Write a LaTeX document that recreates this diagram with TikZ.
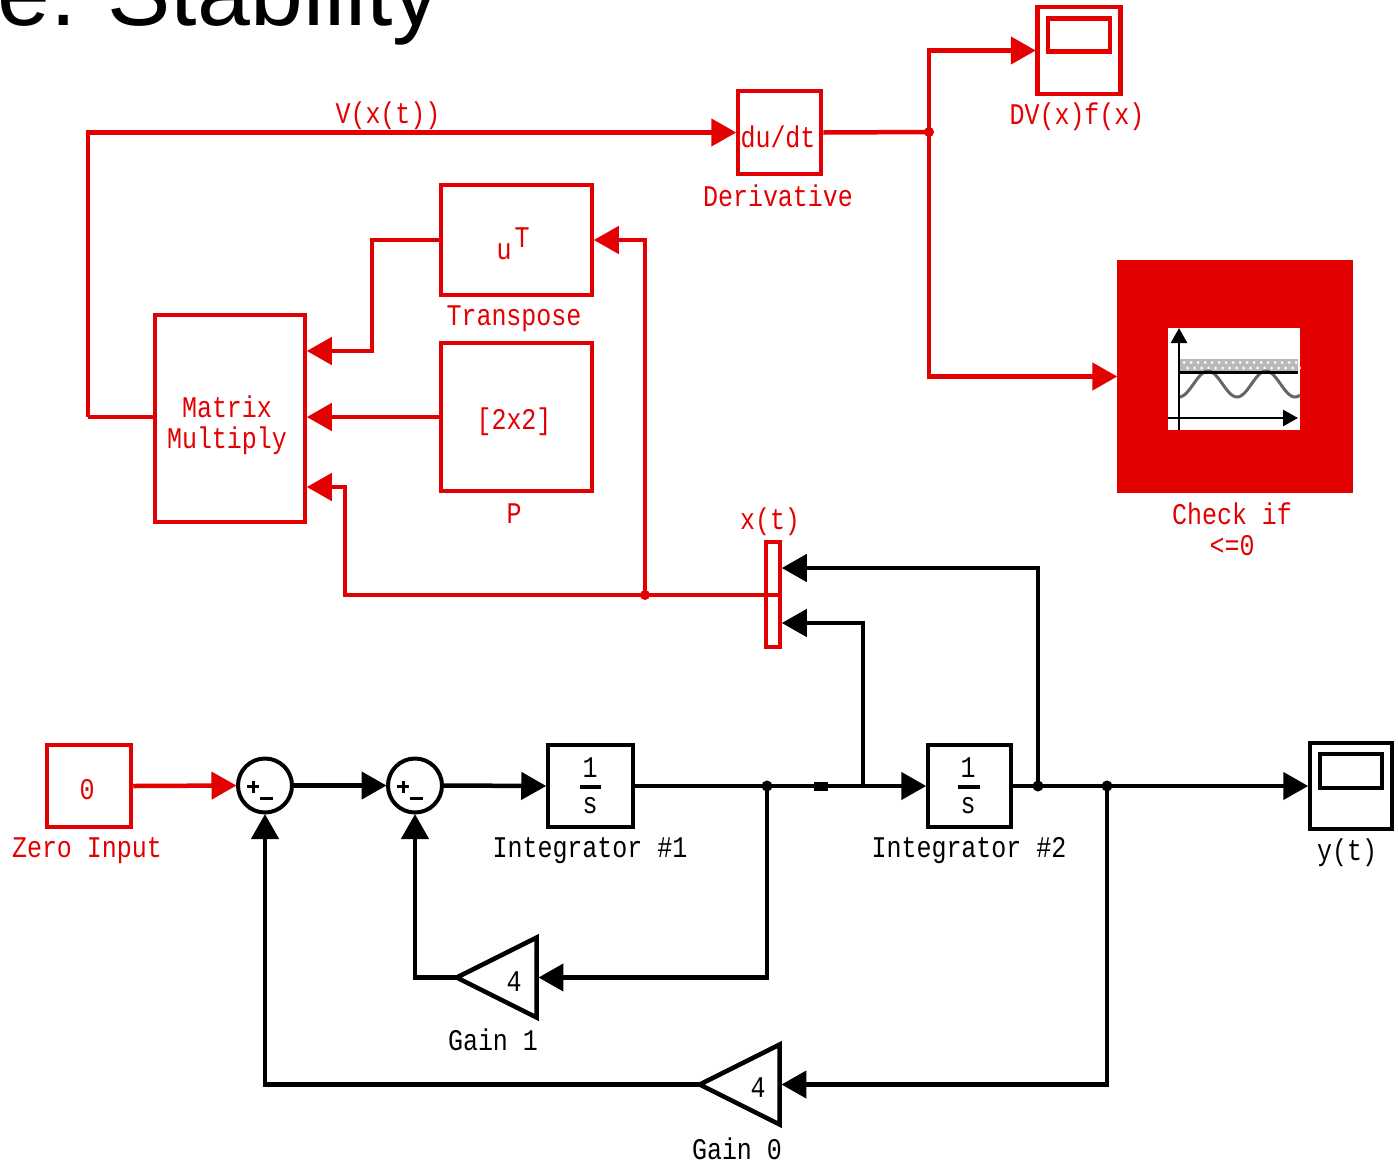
\documentclass[tikz,border=0pt]{standalone}
\usepackage{fontspec}
\setmainfont{Liberation Sans}
\newfontfamily\pixfont[FakeStretch=0.833]{Liberation Mono}
\usetikzlibrary{arrows.meta,shapes.geometric}
\definecolor{simred}{HTML}{E30000}
\tikzset{
  x=1pt,y=-1pt,
  lab/.style={font=\pixfont\fontsize{30}{34}\selectfont,inner sep=0pt,text=black},
  redlab/.style={lab,text=simred},
  wire/.style={line width=4.5pt,line join=miter},
  tip/.style={wire,-{Triangle[length=25pt,width=27pt]},shorten >=-0.5pt},
  sumcircle/.style={circle,draw=black,line width=4pt,minimum size=54pt,inner sep=0pt},
  gaintri/.style={isosceles triangle,isosceles triangle stretches,shape border rotate=180,draw=black,line width=4.5pt,minimum width=80pt,minimum height=80pt,inner sep=0pt},
  dotnode/.style={circle,fill=#1,inner sep=0pt,minimum size=11pt},
}
\begin{document}
\begin{tikzpicture}
\useasboundingbox (0,0) rectangle (1398,1168);
\begin{scope}
\clip (0,0) rectangle (1398,1168);
\node[anchor=base west,inner sep=0pt,font=\fontsize{95}{100}\selectfont] (title) at (-3,25) {e.\hspace{-4pt} Stability};
\end{scope}

% --- red blocks
\node[draw=simred,line width=4.5pt,minimum width=83pt,minimum height=83pt,inner sep=0pt] (deriv) at (779.5,132.5) {};
\node[redlab] (derivtext) at (778,137) {du/dt};
\node[redlab] (derivlab) at (778,196) {Derivative};

\node[draw=simred,line width=4.5pt,minimum width=83pt,minimum height=87pt,inner sep=0pt] (scopedv) at (1079,50.5) {};
\node[draw=simred,line width=4.5pt,minimum width=62pt,minimum height=33pt,inner sep=0pt] (scopedvscr) at (1079,35) {};
\node[redlab] (dvlab) at (1077,117) {DV(x)f(x)};

\node[fill=simred,minimum width=236pt,minimum height=233pt,inner sep=0pt] (check) at (1235,376.5) {};
\node[fill=white,minimum width=132pt,minimum height=102pt,inner sep=0pt] (checkscr) at (1234,379) {};
\fill[gray!55] (1179,359) rectangle (1298,372);
\foreach \i in {0,...,16}{\fill[white] (1184+7*\i,362.5) circle (1.5pt);\fill[white] (1187.5+7*\i,368) circle (1.5pt);}
\draw[gray!80!black,line width=3pt] plot[domain=0:121,samples=70,smooth] ({1179+\x},{384+13*cos(\x*6.2069)});
\draw[black,line width=2.5pt] (1179,372.5) -- (1298,372.5);
\draw[black,line width=2.5pt,-{Triangle[length=15pt,width=16pt]}] (1179,430) -- (1179,328);
\draw[black,line width=2.5pt,-{Triangle[length=15pt,width=16pt]}] (1168,418) -- (1298,418);
\node[redlab] (checklab) at (1232,514) {Check if};
\node[redlab] (checklab2) at (1232,546) {<=0};

\node[draw=simred,line width=4.5pt,minimum width=151pt,minimum height=110pt,inner sep=0pt] (transpose) at (516.5,240) {};
\node[redlab] (ulab) at (504,252) {u};
\node[redlab] (tlab) at (522,238) {T};
\node[redlab] (transposelab) at (514,319) {Transpose};

\node[draw=simred,line width=4.5pt,minimum width=151pt,minimum height=148pt,inner sep=0pt] (pblock) at (516.5,417) {};
\node[redlab] (ptext) at (514,422) {[2x2]};
\node[redlab] (plab) at (514,514) {P};

\node[draw=simred,line width=4.5pt,minimum width=150pt,minimum height=207pt,inner sep=0pt] (matmul) at (230,418.5) {};
\node[redlab] (mmt1) at (227,407) {Matrix};
\node[redlab] (mmt2) at (227,441) {Multiply};

\node[draw=simred,line width=4.5pt,minimum width=14pt,minimum height=105pt,inner sep=0pt] (mux) at (773,594.5) {};
\node[redlab] (muxlab) at (770,522) {x(t)};

\node[draw=simred,line width=4.5pt,minimum width=84pt,minimum height=82pt,inner sep=0pt] (zero) at (89,786) {};
\node[redlab] (zerotext) at (87,790) {0};
\node[redlab] (zerolab) at (87,851) {Zero Input};

% --- black blocks
\node[sumcircle] (suma) at (265,785.5) {};
\node[sumcircle] (sumb) at (415,785.5) {};
\foreach \c in {suma,sumb}{
  \draw[black,line width=3pt] ([shift={(-18,1)}]\c.center) -- ([shift={(-6,1)}]\c.center);
  \draw[black,line width=3pt] ([shift={(-12,-5)}]\c.center) -- ([shift={(-12,7)}]\c.center);
  \draw[black,line width=3.5pt] ([shift={(-5,13)}]\c.center) -- ([shift={(8,13)}]\c.center);
}

\node[draw=black,line width=4.5pt,minimum width=85pt,minimum height=82pt,inner sep=0pt] (intA) at (590.5,786) {};
\node[lab] (intAn) at (590,768) {1};
\draw[black,line width=4.5pt] (580,787) -- (601,787);
\node[lab] (intAd) at (590,806) {s};
\node[lab] (intAlab) at (590,851) {Integrator \#1};

\node[draw=black,line width=4.5pt,minimum width=83pt,minimum height=82pt,inner sep=0pt] (intB) at (969.5,786) {};
\node[lab] (intBn) at (968,768) {1};
\draw[black,line width=4.5pt] (958,787) -- (980,787);
\node[lab] (intBd) at (968,806) {s};
\node[lab] (intBlab) at (969,851) {Integrator \#2};

\node[draw=black,line width=4.5pt,minimum width=82pt,minimum height=86pt,inner sep=0pt] (scopey) at (1351,786) {};
\node[draw=black,line width=4.5pt,minimum width=62pt,minimum height=34pt,inner sep=0pt] (scopeyscr) at (1351,771) {};
\node[lab] (ylab) at (1347,853) {y(t)};

\node[gaintri] (gainA) at (512,977.5) {};
\node[lab] (gainAt) at (514,982) {4};
\node[lab] (gainAlab) at (493,1040) {Gain 1};
\node[gaintri] (gainB) at (755,1084.5) {};
\node[lab] (gainBt) at (758,1088) {4};
\node[lab] (gainBlab) at (737,1149) {Gain 0};

% --- named junctions and ports
\coordinate (jDeriv) at (929,132);
\coordinate (jMux) at (645,595);
\coordinate (jA) at (767,786);
\coordinate (jS) at (821,786);
\coordinate (jB) at (863,786);
\coordinate (jC) at (1038,786);
\coordinate (jD) at (1107,786);

% --- red connectors
\coordinate (mmL) at (88,417);
\draw[wire,simred] (matmul.west |- pblock.west) -- (mmL);
\draw[tip,simred] (mmL) |- (deriv.west);
\node[redlab] (vlab) at (388,116) {V(x(t))};
\draw[wire,simred] (deriv.east) -- (jDeriv);
\draw[tip,simred] (jDeriv) |- (scopedv.west);
\draw[tip,simred] (jDeriv) |- (check.west);
\draw[tip,simred] (transpose.west) -- ++(-67,0) |- ([yshift=67.5pt]matmul.east);
\draw[tip,simred] (pblock.west) -- (pblock.west -| matmul.east);
\draw[tip,simred] (mux.east |- jMux) -- (345,595) |- ([yshift=-68.5pt]matmul.east);
\draw[tip,simred] (jMux) |- (transpose.east);
\node[dotnode=simred,minimum size=10pt] (dotDeriv) at (jDeriv) {};
\node[dotnode=simred,minimum size=10pt] (dotMux) at (jMux) {};

% --- black connectors
\draw[tip,simred] (zero.east) -- (suma.west);
\draw[tip,black] (suma.east) -- (sumb.west);
\draw[tip,black] (sumb.east) -- (intA.west);
\draw[tip,black] (intA.east) -- (intB.west);
\draw[tip,black] (intB.east) -- (scopey.west);
\draw[tip,black] (jC) |- ([yshift=26.5pt]mux.east);
\draw[tip,black] (jB) |- ([yshift=-28.5pt]mux.east);
\draw[tip,black] (jA) |- (gainA.east);
\draw[tip,black] (jD) |- (gainB.east);
\draw[tip,black,shorten <=-6pt] (gainA.apex) -| (sumb.south);
\draw[tip,black,shorten <=-6pt] (gainB.apex) -| (suma.south);
\node[dotnode=black] (dotA) at (jA) {};
\node[fill=black,inner sep=0pt,minimum width=14pt,minimum height=9pt] (dotS) at (jS) {};
\node[dotnode=black] (dotC) at (jC) {};
\node[dotnode=black] (dotD) at (jD) {};
\end{tikzpicture}
\end{document}
